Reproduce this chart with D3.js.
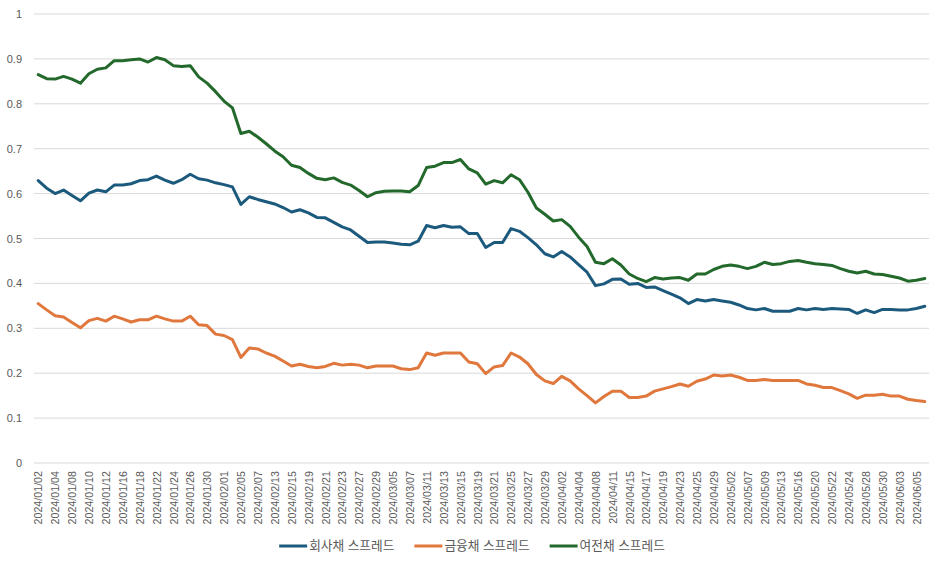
<!DOCTYPE html>
<html>
<head>
<meta charset="utf-8">
<script src="https://cdn.jsdelivr.net/npm/d3@7"></script>
<style>
  body { margin: 0; background: #fff; }
  text { font-family: "Liberation Sans", "Noto Sans CJK KR", sans-serif; fill: #595959; }
</style>
</head>
<body>
<div id="chart"></div>
<script>
const dates = [
  "2024/01/02","2024/01/03","2024/01/04","2024/01/05","2024/01/08","2024/01/09","2024/01/10","2024/01/11","2024/01/12","2024/01/15",
  "2024/01/16","2024/01/17","2024/01/18","2024/01/19","2024/01/22","2024/01/23","2024/01/24","2024/01/25","2024/01/26","2024/01/29",
  "2024/01/30","2024/01/31","2024/02/01","2024/02/02","2024/02/05","2024/02/06","2024/02/07","2024/02/08","2024/02/13","2024/02/14",
  "2024/02/15","2024/02/16","2024/02/19","2024/02/20","2024/02/21","2024/02/22","2024/02/23","2024/02/26","2024/02/27","2024/02/28",
  "2024/02/29","2024/03/04","2024/03/05","2024/03/06","2024/03/07","2024/03/08","2024/03/11","2024/03/12","2024/03/13","2024/03/14",
  "2024/03/15","2024/03/18","2024/03/19","2024/03/20","2024/03/21","2024/03/22","2024/03/25","2024/03/26","2024/03/27","2024/03/28",
  "2024/03/29","2024/04/01","2024/04/02","2024/04/03","2024/04/04","2024/04/05","2024/04/08","2024/04/09","2024/04/11","2024/04/12",
  "2024/04/15","2024/04/16","2024/04/17","2024/04/18","2024/04/19","2024/04/22","2024/04/23","2024/04/24","2024/04/25","2024/04/26",
  "2024/04/29","2024/04/30","2024/05/02","2024/05/03","2024/05/07","2024/05/08","2024/05/09","2024/05/10","2024/05/13","2024/05/14",
  "2024/05/16","2024/05/17","2024/05/20","2024/05/21","2024/05/22","2024/05/23","2024/05/24","2024/05/27","2024/05/28","2024/05/29",
  "2024/05/30","2024/05/31","2024/06/03","2024/06/04","2024/06/05","2024/06/07"
];

// 회사채 스프레드
const corp = [
  0.629,0.612,0.600,0.608,0.596,0.584,0.601,0.608,0.604,0.619,
  0.619,0.622,0.629,0.631,0.639,0.630,0.623,0.631,0.643,0.633,
  0.630,0.624,0.620,0.615,0.576,0.593,0.587,0.582,0.577,0.569,
  0.559,0.564,0.557,0.547,0.546,0.536,0.526,0.519,0.505,0.491,
  0.492,0.492,0.490,0.487,0.486,0.494,0.529,0.524,0.529,0.525,
  0.526,0.511,0.511,0.480,0.491,0.491,0.522,0.516,0.502,0.486,
  0.466,0.459,0.471,0.459,0.442,0.425,0.395,0.399,0.409,0.410,
  0.398,0.400,0.391,0.392,0.384,0.376,0.368,0.355,0.364,0.361,
  0.364,0.361,0.358,0.352,0.344,0.341,0.344,0.338,0.338,0.338,
  0.344,0.341,0.344,0.342,0.344,0.343,0.342,0.333,0.341,0.335,
  0.342,0.342,0.341,0.341,0.344,0.349
];

// 금융채 스프레드
const fin = [
  0.355,0.341,0.328,0.325,0.313,0.301,0.317,0.322,0.316,0.327,
  0.321,0.314,0.319,0.319,0.327,0.321,0.316,0.316,0.327,0.308,
  0.306,0.287,0.284,0.275,0.235,0.256,0.254,0.245,0.238,0.227,
  0.216,0.220,0.215,0.212,0.215,0.222,0.218,0.220,0.218,0.212,
  0.216,0.216,0.216,0.210,0.208,0.212,0.245,0.240,0.245,0.245,
  0.245,0.225,0.221,0.199,0.214,0.217,0.245,0.236,0.221,0.197,
  0.183,0.177,0.193,0.183,0.165,0.150,0.134,0.148,0.160,0.160,
  0.146,0.146,0.149,0.160,0.165,0.170,0.176,0.171,0.182,0.187,
  0.196,0.194,0.196,0.191,0.184,0.184,0.186,0.184,0.184,0.184,
  0.184,0.176,0.173,0.168,0.168,0.161,0.154,0.144,0.151,0.151,
  0.153,0.149,0.149,0.142,0.139,0.137
];

// 여전채 스프레드
const card = [
  0.865,0.856,0.855,0.861,0.855,0.846,0.867,0.877,0.880,0.896,
  0.896,0.898,0.900,0.893,0.903,0.898,0.885,0.883,0.885,0.860,
  0.846,0.827,0.806,0.791,0.734,0.739,0.726,0.711,0.695,0.682,
  0.663,0.658,0.645,0.634,0.631,0.635,0.625,0.619,0.607,0.593,
  0.602,0.605,0.606,0.606,0.604,0.618,0.658,0.661,0.669,0.669,
  0.676,0.655,0.646,0.621,0.629,0.624,0.642,0.631,0.603,0.568,
  0.554,0.539,0.542,0.527,0.503,0.482,0.447,0.444,0.455,0.441,
  0.421,0.411,0.404,0.413,0.410,0.412,0.413,0.407,0.421,0.421,
  0.431,0.438,0.441,0.438,0.433,0.438,0.447,0.442,0.444,0.449,
  0.451,0.447,0.444,0.442,0.440,0.433,0.427,0.423,0.427,0.421,
  0.420,0.416,0.412,0.405,0.407,0.411
];

const seriesNames = ["회사채 스프레드", "금융채 스프레드", "여전채 스프레드"];
const seriesValues = [corp, fin, card];
const colors = ["#1c5a7d", "#e0773c", "#22692b"];

const W = 944, H = 566;
const plot = {left: 34, right: 929, top: 14, bottom: 463};

const svg = d3.select("#chart").append("svg")
  .attr("width", W).attr("height", H);

const x = d3.scalePoint().domain(dates).range([plot.left, plot.right]).padding(0.5);
const y = d3.scaleLinear().domain([0, 1]).range([plot.bottom, plot.top]);

// gridlines
svg.append("g")
  .selectAll("line")
  .data(y.ticks(10))
  .join("line")
    .attr("x1", plot.left).attr("x2", plot.right)
    .attr("y1", d => y(d)).attr("y2", d => y(d))
    .attr("stroke", "#d9d9d9").attr("stroke-width", 1);

// y axis
const yAxis = svg.append("g")
  .attr("transform", `translate(${plot.left - 12},0)`)
  .call(d3.axisLeft(y).ticks(10).tickSize(0).tickFormat(d3.format("~g")));
yAxis.select(".domain").remove();
yAxis.selectAll("text").style("font-size", "11px").attr("x", 0);

// x axis
const xAxis = svg.append("g")
  .attr("transform", `translate(0,${plot.bottom})`)
  .call(d3.axisBottom(x).tickValues(dates.filter((d, i) => i % 2 === 0)).tickSize(0));
xAxis.select(".domain").remove();
xAxis.selectAll("text")
  .style("font-size", "10.7px")
  .attr("transform", "rotate(-90)")
  .attr("text-anchor", "end")
  .attr("x", -8).attr("y", 0).attr("dy", "0.35em");

// lines
const line = d3.line()
  .x((d, i) => x(dates[i]))
  .y(d => y(d));

seriesValues.forEach((vals, k) => {
  svg.append("path")
    .datum(vals)
    .attr("fill", "none")
    .attr("stroke", colors[k])
    .attr("stroke-width", 3)
    .attr("stroke-linejoin", "round")
    .attr("stroke-linecap", "round")
    .attr("d", line);
});

// legend, centred on the whole picture
const legend = svg.append("g").attr("transform", `translate(0,546)`);
const items = [];
seriesNames.forEach((name, k) => {
  const gItem = legend.append("g");
  gItem.append("line")
    .attr("x1", 0).attr("x2", 28).attr("y1", 0).attr("y2", 0)
    .attr("stroke", colors[k]).attr("stroke-width", 3);
  const t = gItem.append("text")
    .attr("x", 30).attr("y", 0).attr("dy", "0.35em")
    .style("font-size", "12.7px")
    .text(name);
  const w = 30 + t.node().getComputedTextLength();
  items.push({gItem, w});
});
const gap = 20;
const total = d3.sum(items, d => d.w) + gap * (items.length - 1);
let lx = W / 2 - total / 2;
items.forEach(it => {
  it.gItem.attr("transform", `translate(${lx},0)`);
  lx += it.w + gap;
});
</script>
</body>
</html>
